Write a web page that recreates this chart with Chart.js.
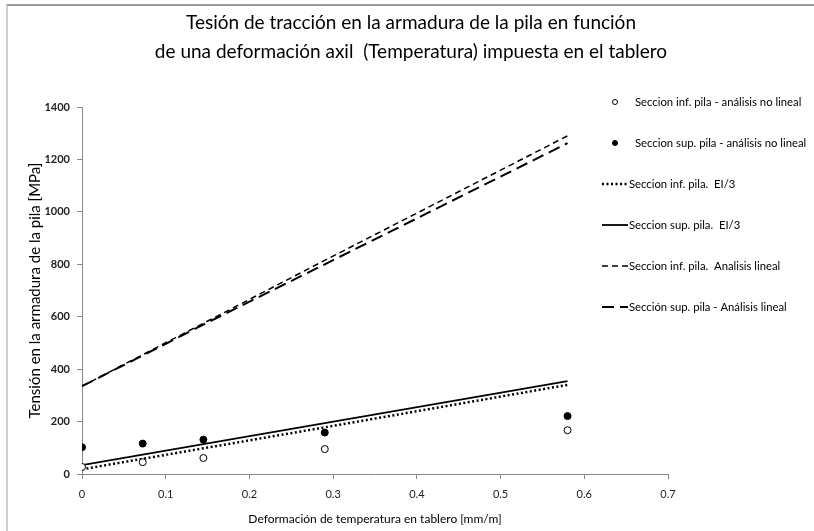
<!DOCTYPE html>
<html>
<head>
<meta charset="utf-8">
<script src="https://cdn.jsdelivr.net/npm/chart.js@4/dist/chart.umd.min.js"></script>
<style>
    body { margin: 0; background: #fff; overflow: hidden; }
    #wrap { position: absolute; left: 0; top: 0; width: 814px; height: 531px; }
    #frame { position: absolute; left: 6px; top: 4px; width: 900px; height: 600px;
             border-top: 2px solid #9a9a9a; border-left: 2px solid #cfcfcf; pointer-events: none; }
</style>
</head>
<body>
<div id="wrap"><canvas id="chart" width="814" height="531"></canvas></div>
<div id="frame"></div>
<script>
// deformacion impuesta [mm/m]
var deformacion = [0, 0.0725, 0.145, 0.29, 0.58];

// tension en la armadura [MPa]
var infNoLineal = [27, 45, 61, 95, 167];
var supNoLineal = [102, 116, 131, 158, 221];
var infEI3 = [18, 58, 98, 178, 340];
var supEI3 = [34, 74, 114, 194, 354];
var infLineal = [335, 455, 575, 815, 1290];
var supLineal = [335, 452, 570, 800, 1262];

var xTicks = [0, 0.1, 0.2, 0.3, 0.4, 0.5, 0.6, 0.7];
var yTicks = [0, 200, 400, 600, 800, 1000, 1200, 1400];

var titleLines = ['Tesión de tracción en la armadura de la pila en función',
                  'de una deformación axil  (Temperatura) impuesta en el tablero'];

var fontName = "Lato, 'Open Sans', sans-serif";

function toPoints(values) {
    return values.map(function (v, i) {
        return { x: deformacion[i], y: v };
    });
}

// title centred over the whole picture, not only the plot
var topTitle = {
    id: 'topTitle',
    afterDraw: function (chart) {
        var ctx = chart.ctx;
        ctx.save();
        ctx.font = '19px ' + fontName;
        ctx.fillStyle = '#000';
        ctx.textAlign = 'center';
        ctx.textBaseline = 'middle';
        ctx.fillText(titleLines[0], 411, 23);
        ctx.fillText(titleLines[1], 411, 52);
        ctx.restore();
    }
};

// legend drawn by hand, one row every 41 px down the right side
var sideLegend = {
    id: 'sideLegend',
    afterDraw: function (chart) {
        var ctx = chart.ctx;
        ctx.save();
        ctx.font = '11.3px ' + fontName;
        ctx.textBaseline = 'middle';
        chart.data.datasets.forEach(function (ds, i) {
            var y = 102 + i * 41;
            if (ds.showLine === false) {
                ctx.beginPath();
                ctx.arc(615, y, 2.5, 0, Math.PI * 2);
                ctx.lineWidth = 1;
                ctx.strokeStyle = '#000';
                ctx.fillStyle = ds.backgroundColor;
                ctx.fill();
                ctx.stroke();
                ctx.fillStyle = '#000';
                ctx.fillText(ds.label, 635, y);
            } else {
                ctx.beginPath();
                ctx.setLineDash(ds.borderDash || []);
                ctx.lineWidth = ds.borderWidth;
                ctx.strokeStyle = '#000';
                ctx.moveTo(602, y);
                ctx.lineTo(628, y);
                ctx.stroke();
                ctx.setLineDash([]);
                ctx.fillStyle = '#000';
                ctx.fillText(ds.label, 629, y);
            }
        });
        ctx.restore();
    }
};

new Chart(document.getElementById('chart'), {
    type: 'scatter',
    data: {
        datasets: [{
            label: 'Seccion inf. pila - análisis no lineal',
            data: toPoints(infNoLineal),
            showLine: false,
            pointRadius: 3.5,
            pointBorderWidth: 1,
            borderColor: '#000',
            backgroundColor: '#fff'
        }, {
            label: 'Seccion sup. pila - análisis no lineal',
            data: toPoints(supNoLineal),
            showLine: false,
            pointRadius: 3.5,
            pointBorderWidth: 1,
            borderColor: '#000',
            backgroundColor: '#000'
        }, {
            label: 'Seccion inf. pila.  EI/3',
            data: toPoints(infEI3),
            showLine: true,
            pointRadius: 0,
            borderColor: '#000',
            borderWidth: 2.5,
            borderDash: [2, 2.5]
        }, {
            label: 'Seccion sup. pila.  EI/3',
            data: toPoints(supEI3),
            showLine: true,
            pointRadius: 0,
            borderColor: '#000',
            borderWidth: 1.8
        }, {
            label: 'Seccion inf. pila.  Analisis lineal',
            data: toPoints(infLineal),
            showLine: true,
            pointRadius: 0,
            borderColor: '#000',
            borderWidth: 1.5,
            borderDash: [6, 4]
        }, {
            label: 'Sección sup. pila - Análisis lineal',
            data: toPoints(supLineal),
            showLine: true,
            pointRadius: 0,
            borderColor: '#000',
            borderWidth: 2,
            borderDash: [12, 6]
        }]
    },
    options: {
        responsive: false,
        animation: false,
        layout: { padding: { left: 0, right: 146, top: 107, bottom: 0 } },
        plugins: {
            legend: { display: false },
            tooltip: { enabled: false },
            title: { display: false }
        },
        scales: {
            x: {
                type: 'linear',
                min: 0,
                max: 0.7,
                afterBuildTicks: function (axis) {
                    axis.ticks = xTicks.map(function (v) { return { value: v }; });
                },
                afterFit: function (axis) { axis.height = 57; },
                ticks: {
                    color: '#222',
                    padding: 9,
                    font: { family: fontName, size: 11 },
                    callback: function (v) { return String(v); }
                },
                grid: { drawOnChartArea: false, tickLength: 5, color: '#888' },
                border: { color: '#888', width: 1 },
                title: {
                    display: true,
                    text: 'Deformación de temperatura en tablero [mm/m]',
                    color: '#000',
                    font: { family: fontName, size: 12 },
                    padding: { top: 0, bottom: 5 }
                }
            },
            y: {
                min: 0,
                max: 1400,
                afterBuildTicks: function (axis) {
                    axis.ticks = yTicks.map(function (v) { return { value: v }; });
                },
                afterFit: function (axis) { axis.width = 82; },
                ticks: {
                    color: '#222',
                    padding: 7,
                    font: { family: fontName, size: 11, weight: 'bold' },
                    callback: function (v) { return String(v); }
                },
                grid: { drawOnChartArea: false, tickLength: 5, color: '#888' },
                border: { color: '#888', width: 1 },
                title: {
                    display: true,
                    text: 'Tensión en la armadura de la pila [MPa]',
                    color: '#000',
                    font: { family: fontName, size: 15 },
                    padding: { top: 26, bottom: 0 }
                }
            }
        }
    },
    plugins: [topTitle, sideLegend]
});
</script>
</body>
</html>
